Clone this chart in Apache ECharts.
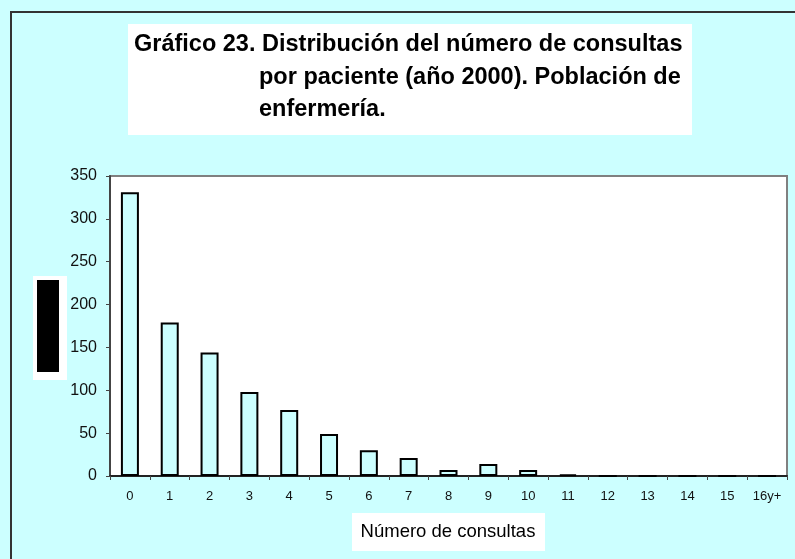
<!DOCTYPE html>
<html>
<head>
<meta charset="utf-8">
<script src="https://cdn.jsdelivr.net/npm/echarts@6/dist/echarts.min.js"></script>
<style>
html,body{margin:0;padding:0;background:#CCFFFF;}
#chart{width:795px;height:559px;}
</style>
</head>
<body>
<div id="chart"></div>
<script>
var categories = ['0','1','2','3','4','5','6','7','8','9','10','11','12','13','14','15','16y+'];
var values = [331, 179, 144, 98, 77, 49, 30, 21, 7, 14, 7, 2, 0, 0, 0, 0, 0];
var yTicks = [0, 50, 100, 150, 200, 250, 300, 350];
var titleLines = ['Gráfico 23. Distribución del número de consultas', 'por paciente (año 2000). Población de', 'enfermería.'];
var xAxisTitle = 'Número de consultas';

var chart = echarts.init(document.getElementById('chart'), null, {renderer: 'canvas'});
var font = 'Arial, "Liberation Sans", sans-serif';
chart.setOption({
  backgroundColor: '#CCFFFF',
  animation: false,
  grid: {
    left: 110, top: 176, right: 8, bottom: 83,
    show: true, backgroundColor: '#FFFFFF', borderColor: '#808080', borderWidth: 2
  },
  xAxis: {
    type: 'category',
    data: categories,
    axisLine: {lineStyle: {color: '#222', width: 2}},
    axisTick: {show: true, alignWithLabel: false, length: 4, lineStyle: {color: '#444', width: 1}},
    axisLabel: {color: '#111', fontSize: 13, fontFamily: font, margin: 14}
  },
  yAxis: {
    type: 'value',
    min: yTicks[0], max: yTicks[yTicks.length - 1], interval: 50,
    axisLine: {show: true, lineStyle: {color: '#444', width: 2}},
    axisTick: {show: true, length: 4, lineStyle: {color: '#444'}},
    splitLine: {show: false},
    axisLabel: {color: '#111', fontSize: 16, fontFamily: font, margin: 13}
  },
  series: [{
    type: 'bar',
    data: values,
    barWidth: 18,
    itemStyle: {color: '#CCFFFF', borderColor: '#000', borderWidth: 2}
  }],
  graphic: [
    {type: 'polyline', shape: {points: [[11, 560], [11, 12], [796, 12]]}, style: {stroke: '#333', lineWidth: 2, fill: null}, z: 10},
    {type: 'rect', shape: {x: 128, y: 24, width: 564, height: 111}, style: {fill: '#FFFFFF'}, z: 1},
    {type: 'text', x: 134, y: 45, style: {text: titleLines[0], font: 'bold 23.5px ' + font, fill: '#000', textVerticalAlign: 'middle'}, z: 2},
    {type: 'text', x: 259, y: 78, style: {text: titleLines[1], font: 'bold 23.5px ' + font, fill: '#000', textVerticalAlign: 'middle'}, z: 2},
    {type: 'text', x: 259, y: 110, style: {text: titleLines[2], font: 'bold 23.5px ' + font, fill: '#000', textVerticalAlign: 'middle'}, z: 2},
    {type: 'rect', shape: {x: 33, y: 276, width: 34, height: 104}, style: {fill: '#FFFFFF'}, z: 1},
    {type: 'rect', shape: {x: 37, y: 280, width: 22, height: 92}, style: {fill: '#000000'}, z: 2},
    {type: 'rect', shape: {x: 352, y: 513, width: 193, height: 38}, style: {fill: '#FFFFFF'}, z: 1},
    {type: 'text', x: 448, y: 532, style: {text: xAxisTitle, font: '18.5px ' + font, fill: '#000', textAlign: 'center', textVerticalAlign: 'middle'}, z: 2}
  ]
});
</script>
</body>
</html>
